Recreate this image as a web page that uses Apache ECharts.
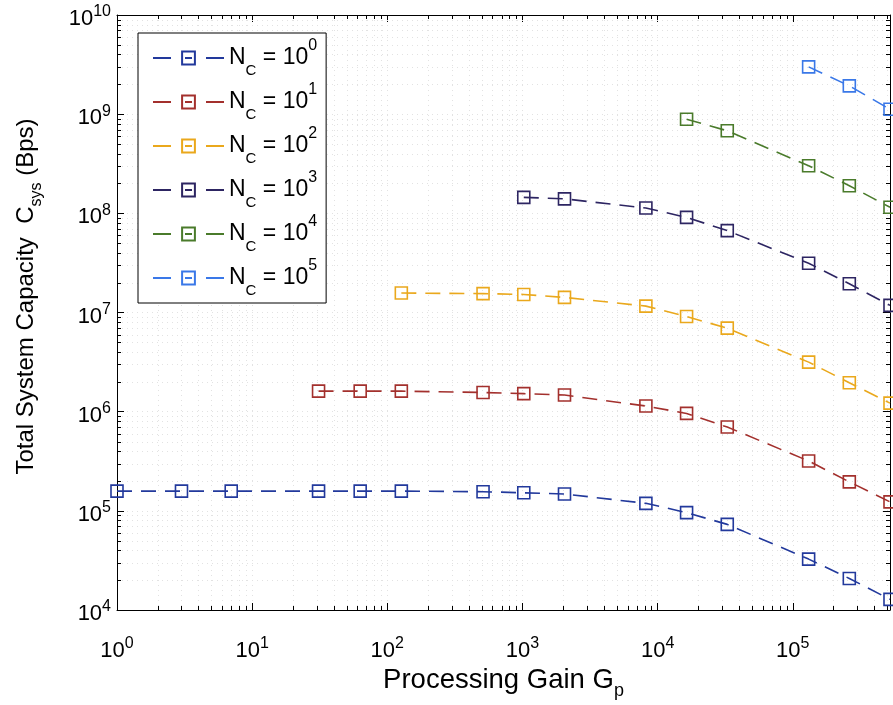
<!DOCTYPE html>
<html><head><meta charset="utf-8">
<script src="https://cdn.jsdelivr.net/npm/echarts@6/dist/echarts.min.js"></script>
<style>html,body{margin:0;padding:0;background:#fff}#c{width:893px;height:705px}</style>
</head><body><div id="c"></div>
<script>
// Processing gain values (x), shared by all series (each series uses the last N entries)
const gainX = [1, 3, 7, 31, 63, 127, 511, 1023, 2047, 8191, 16383, 32767, 131071, 262143, 524287];
const seriesNames = ['N_C = 10^0', 'N_C = 10^1', 'N_C = 10^2', 'N_C = 10^3', 'N_C = 10^4', 'N_C = 10^5'];
const cap0 = [1.58e5, 1.58e5, 1.58e5, 1.58e5, 1.58e5, 1.58e5, 1.56e5, 1.52e5, 1.48e5, 1.19e5, 9.6e4, 7.3e4, 3.26e4, 2.08e4, 1.28e4];
const cap1 = [1.61e6, 1.61e6, 1.61e6, 1.56e6, 1.52e6, 1.47e6, 1.14e6, 9.6e5, 7.0e5, 3.18e5, 1.96e5, 1.23e5];
const cap2 = [1.57e7, 1.55e7, 1.52e7, 1.42e7, 1.16e7, 9.1e6, 6.95e6, 3.16e6, 1.96e6, 1.22e6];
const cap3 = [1.45e8, 1.40e8, 1.13e8, 9.1e7, 6.7e7, 3.14e7, 1.95e7, 1.18e7];
const cap4 = [8.9e8, 6.8e8, 3.02e8, 1.90e8, 1.15e8];
const cap5 = [3.0e9, 1.93e9, 1.12e9];
const capValues = [cap0, cap1, cap2, cap3, cap4, cap5];
const colors = ['#22399c', '#a3302d', '#eaa81c', '#2d2562', '#4a7b2b', '#3a78e8'];
const xMin = 1, xMax = 524287, yMin = 1e4, yMax = 1e10;
const xTickExps = [0, 1, 2, 3, 4, 5];
const yTickExps = [4, 5, 6, 7, 8, 9, 10];

const minorX = [];
for (let e = 0; e <= 5; e++) for (let m = 2; m <= 9; m++) { const v = m * Math.pow(10, e); if (v < xMax) minorX.push(v); }
const minorY = [];
for (let e = 4; e < 10; e++) for (let m = 2; m <= 9; m++) minorY.push(m * Math.pow(10, e));

const FONT = '"Liberation Sans", Arial, Helvetica, sans-serif';
const GRID_COLOR = '#e2e2e2';

function powLabel(exps) {
  return function (v) {
    const l = Math.log10(v);
    const e = Math.round(l);
    if (Math.abs(l - e) > 1e-6 || exps.indexOf(e) < 0) return '';
    return '{b|10}{s|' + e + '}';
  };
}
const tickRich = {
  b: { fontSize: 22, lineHeight: 30, fontFamily: FONT, color: '#000' },
  s: { fontSize: 16, lineHeight: 16, verticalAlign: 'top', fontFamily: FONT, color: '#000' }
};

const chart = echarts.init(document.getElementById('c'), null, { renderer: 'canvas' });

const lineSeries = seriesNames.map((name, i) => {
  const vals = capValues[i];
  const xs = gainX.slice(gainX.length - vals.length);
  return {
    name: name,
    type: 'line',
    xAxisIndex: 0, yAxisIndex: 0,
    data: xs.map((x, j) => [x, vals[j]]),
    symbol: 'rect',
    symbolSize: 12,
    z: 3,
    itemStyle: { color: 'rgba(255,255,255,0)', borderColor: colors[i], borderWidth: 1.6 },
    lineStyle: { color: colors[i], width: 1.6, type: [15, 9] },
    emphasis: { disabled: true },
    animation: false
  };
});

const tickSeries = {
  type: 'custom',
  name: 'ticks',
  xAxisIndex: 0, yAxisIndex: 0,
  silent: true,
  clip: false,
  z: 1,
  data: [[xMin, yMin]],
  renderItem: function (params, api) {
    const cs = params.coordSys;
    const x0 = cs.x, x1 = cs.x + cs.width, y0 = cs.y, y1 = cs.y + cs.height;
    const ch = [];
    const gs = { stroke: GRID_COLOR, lineWidth: 1, lineDash: [1, 4] };
    const ts = { stroke: '#000', lineWidth: 1 };
    minorX.forEach(v => {
      const x = Math.round(api.coord([v, yMin])[0]) + 0.5;
      ch.push({ type: 'line', shape: { x1: x, y1: y0, x2: x, y2: y1 }, style: gs });
      ch.push({ type: 'line', shape: { x1: x, y1: y1, x2: x, y2: y1 - 4 }, style: ts });
      ch.push({ type: 'line', shape: { x1: x, y1: y0, x2: x, y2: y0 + 4 }, style: ts });
    });
    minorY.forEach(v => {
      const y = Math.round(api.coord([xMin, v])[1]) + 0.5;
      ch.push({ type: 'line', shape: { x1: x0, y1: y, x2: x1, y2: y }, style: gs });
      ch.push({ type: 'line', shape: { x1: x0, y1: y, x2: x0 + 4, y2: y }, style: ts });
      ch.push({ type: 'line', shape: { x1: x1, y1: y, x2: x1 - 4, y2: y }, style: ts });
    });
    return { type: 'group', children: ch };
  }
};

const axisCommon = {
  type: 'log',
  logBase: 10,
  axisLine: { show: true, lineStyle: { color: '#000', width: 1 } },
  axisTick: { show: true, inside: true, length: 7, lineStyle: { color: '#000', width: 1 } },
  minorTick: { show: false },
  splitLine: { show: false }
};

const option = {
  backgroundColor: '#fff',
  animation: false,
  grid: { left: 117, right: 3, top: 15, bottom: 95, containLabel: false },
  xAxis: [
    Object.assign({}, axisCommon, {
      min: xMin, max: xMax, position: 'bottom',
      splitLine: { show: true, lineStyle: { color: GRID_COLOR, type: [1, 4] } },
      axisLabel: { show: true, margin: 26, formatter: powLabel(xTickExps), rich: tickRich, showMinLabel: true, showMaxLabel: true, hideOverlap: false },
      name: '{t|Processing Gain G}{sb|p}',
      nameLocation: 'middle',
      nameGap: 50,
      nameTextStyle: {
        rich: {
          t: { fontSize: 27.5, lineHeight: 38, fontFamily: FONT, color: '#000' },
          sb: { fontSize: 18, lineHeight: 18, verticalAlign: 'bottom', fontFamily: FONT, color: '#000' }
        }
      }
    }),
    Object.assign({}, axisCommon, {
      min: xMin, max: xMax, position: 'top',
      axisLabel: { show: false }
    })
  ],
  yAxis: [
    Object.assign({}, axisCommon, {
      min: yMin, max: yMax, position: 'left',
      splitLine: { show: true, lineStyle: { color: GRID_COLOR, type: [1, 4] } },
      axisLabel: { show: true, margin: 6, formatter: powLabel(yTickExps), rich: tickRich, padding: [8, 0, 0, 0], showMinLabel: true, showMaxLabel: true, hideOverlap: false },
      name: '{t|Total System Capacity  C}{sb|sys}{t| (Bps)}',
      nameLocation: 'middle',
      nameRotate: 90,
      nameGap: 72,
      nameTextStyle: {
        padding: [0, 0, 0, 32],
        rich: {
          t: { fontSize: 24, lineHeight: 38, fontFamily: FONT, color: '#000' },
          sb: { fontSize: 16, lineHeight: 16, verticalAlign: 'bottom', fontFamily: FONT, color: '#000' }
        }
      }
    }),
    Object.assign({}, axisCommon, {
      min: yMin, max: yMax, position: 'right',
      axisLabel: { show: false }
    })
  ],
  legend: {
    data: seriesNames,
    orient: 'vertical',
    left: 138,
    top: 33,
    padding: [5, 9, 5, 14],
    itemGap: 4,
    itemWidth: 71,
    itemHeight: 16,
    selectedMode: false,
    borderColor: '#000',
    borderWidth: 1,
    borderRadius: 0,
    backgroundColor: '#fff',
    lineStyle: { type: [18, 14, 7, 14, 18, 200] },
    formatter: function (name) {
      const k = name.split('^')[1];
      return '{n|N}{sb|C}{n| = 10}{sp|' + k + '}';
    },
    textStyle: {
      rich: {
        n: { fontSize: 23, lineHeight: 40, fontFamily: FONT, color: '#000' },
        sb: { fontSize: 15, lineHeight: 15, verticalAlign: 'bottom', fontFamily: FONT, color: '#000' },
        sp: { fontSize: 16, lineHeight: 16, verticalAlign: 'top', fontFamily: FONT, color: '#000' }
      }
    }
  },
  series: [tickSeries].concat(lineSeries)
};
chart.setOption(option);
</script>
</body></html>
